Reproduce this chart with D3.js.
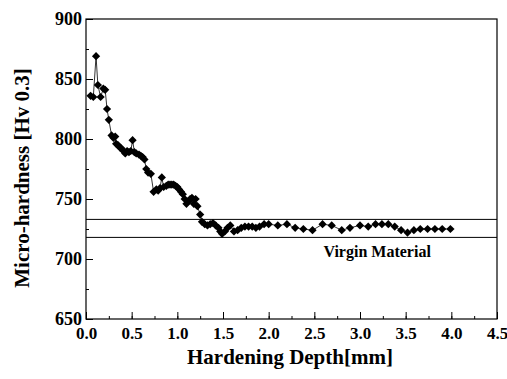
<!DOCTYPE html>
<html>
<head>
<meta charset="utf-8">
<script src="https://cdn.jsdelivr.net/npm/d3@7"></script>
<style>
  body { margin: 0; background: #fff; }
  svg text { font-family: "Liberation Serif", "Times New Roman", serif; font-weight: bold; fill: #000; }
</style>
</head>
<body>
<svg id="chart"></svg>
<script>
// hardening depth [mm]
var depth = [0.05, 0.08, 0.11, 0.13, 0.16, 0.19, 0.21, 0.23, 0.25, 0.28, 0.30, 0.32, 0.33, 0.35, 0.37,
  0.39, 0.41, 0.43, 0.45, 0.47, 0.49, 0.51, 0.53, 0.55, 0.58, 0.60, 0.62, 0.64, 0.66, 0.68,
  0.71, 0.74, 0.77, 0.79, 0.81, 0.83, 0.85, 0.88, 0.90, 0.92, 0.94, 0.96, 0.98, 1.00, 1.02,
  1.04, 1.06, 1.08, 1.10, 1.12, 1.14, 1.16, 1.18, 1.20, 1.22, 1.25, 1.27, 1.30, 1.33, 1.36,
  1.39, 1.42, 1.45, 1.47, 1.49, 1.52, 1.55, 1.58, 1.62, 1.66, 1.70, 1.74, 1.78, 1.82, 1.86,
  1.90, 1.95, 2.00, 2.10, 2.20, 2.29, 2.38, 2.48, 2.59, 2.69, 2.80, 2.89, 3.00, 3.09, 3.17,
  3.24, 3.31, 3.38, 3.45, 3.52, 3.59, 3.66, 3.74, 3.82, 3.90, 3.99];
// micro-hardness [Hv 0.3]
var hardness = [836, 835, 869, 845, 835, 842, 841, 825, 816, 803, 801, 802, 796, 795, 793,
  792, 790, 788, 790, 789, 790, 799, 789, 788, 787, 786, 785, 783, 775, 772,
  771, 756, 758, 757, 759, 768, 760, 761, 762, 762, 762, 762, 761, 760, 758,
  756, 754, 750, 746, 748, 750, 751, 746, 750, 744, 737, 731, 729, 728, 729,
  730, 728, 726, 723, 721, 723, 726, 728, 723, 724, 726, 727, 727, 727, 726,
  727, 729, 729, 728, 729, 726, 725, 724, 729, 728, 724, 726, 728, 727, 729,
  729, 729, 727, 724, 722, 724, 725, 725, 725, 725, 725];
// virgin material band
var virginBand = [718, 733];

var xTicks = [0, 0.5, 1, 1.5, 2, 2.5, 3, 3.5, 4, 4.5];
var yTicks = [650, 700, 750, 800, 850, 900];

var width = 507, height = 379;
var marginLeft = 86, marginRight = 10, marginTop = 19, marginBottom = 60;

var svg = d3.select("#chart").attr("width", width).attr("height", height);

var x = d3.scaleLinear([0, 4.5], [marginLeft, width - marginRight]);
var y = d3.scaleLinear([650, 900], [height - marginBottom, marginTop]);

// x axis with inward ticks
svg.append("g")
    .attr("transform", `translate(0,${height - marginBottom})`)
    .call(d3.axisBottom(x).tickValues(d3.range(0, 4.51, 0.25)).tickSize(-3).tickFormat(""))
    .call(g => g.select(".domain").remove());
svg.append("g")
    .attr("transform", `translate(0,${height - marginBottom})`)
    .call(d3.axisBottom(x).tickValues(xTicks).tickSize(-7).tickPadding(11).tickFormat(d3.format(".1f")))
    .call(g => g.select(".domain").remove())
    .call(g => g.selectAll("text").attr("font-size", 17).attr("dy", "0.55em"));

// y axis with inward ticks
svg.append("g")
    .attr("transform", `translate(${marginLeft},0)`)
    .call(d3.axisLeft(y).tickValues(d3.range(650, 901, 25)).tickSize(-3).tickFormat(""))
    .call(g => g.select(".domain").remove());
svg.append("g")
    .attr("transform", `translate(${marginLeft},0)`)
    .call(d3.axisLeft(y).tickValues(yTicks).tickSize(-7).tickPadding(4))
    .call(g => g.select(".domain").remove())
    .call(g => g.selectAll("text").attr("font-size", 18));

svg.selectAll(".tick line").attr("stroke", "#000");

// frame
svg.append("rect")
    .attr("x", marginLeft).attr("y", marginTop)
    .attr("width", width - marginLeft - marginRight)
    .attr("height", height - marginTop - marginBottom)
    .attr("fill", "none").attr("stroke", "#000").attr("stroke-width", 1.2);

// virgin material lines
svg.selectAll(".band").data(virginBand).join("line")
    .attr("x1", marginLeft).attr("x2", width - marginRight)
    .attr("y1", d => y(d)).attr("y2", d => y(d))
    .attr("stroke", "#000").attr("stroke-width", 1);

svg.append("text")
    .attr("x", x(2.6)).attr("y", y(700) - 2)
    .attr("font-size", 16)
    .text("Virgin Material");

var pts = depth.map((d, i) => ({ d: d, h: hardness[i] }));

svg.append("path")
    .attr("fill", "none").attr("stroke", "#000").attr("stroke-width", 0.8)
    .attr("d", d3.line().x(p => x(p.d)).y(p => y(p.h))(pts));

var diamond = d3.symbol(d3.symbolSquare, 34);
svg.selectAll(".pt").data(pts).join("path")
    .attr("transform", p => `translate(${x(p.d)},${y(p.h)}) rotate(45)`)
    .attr("d", diamond)
    .attr("fill", "#000");

// axis titles
svg.append("text")
    .attr("x", 290).attr("y", 364)
    .attr("text-anchor", "middle").attr("font-size", 21)
    .text("Hardening Depth[mm]");

svg.append("text")
    .attr("transform", "translate(29,178) rotate(-90)")
    .attr("text-anchor", "middle").attr("font-size", 21)
    .text("Micro-hardness [Hv 0.3]");
</script>
</body>
</html>
